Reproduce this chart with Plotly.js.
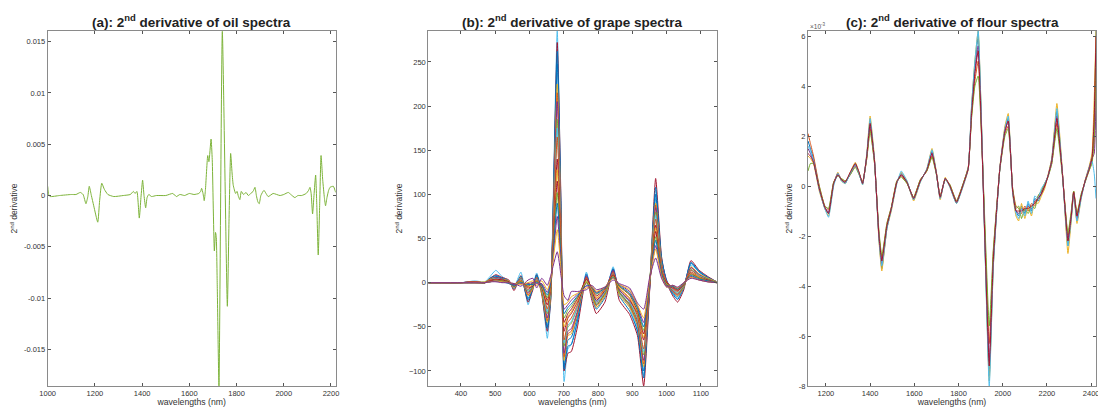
<!DOCTYPE html>
<html>
<head>
<meta charset="utf-8">
<script src="https://cdn.plot.ly/plotly-3.0.1.min.js"></script>
<style>
html,body{margin:0;padding:0;background:#fff;}
#chart{width:1098px;height:407px;}
</style>
</head>
<body>
<div id="chart"></div>
<script>
// ---------- Panel (a): oil spectra, 2nd derivative ----------
const oilWavelengths = [1000,1004,1010,1050,1100,1120,1138,1150,1162,1170,
 1176,1185,1195,1212,1220,1229,1240,1255,1280,1320,
 1350,1363,1370,1378,1388,1395,1402,1408,1415,1421,
 1428,1440,1460,1500,1530,1545,1560,1580,1600,1620,
 1640,1648,1652,1658,1663,1668,1678,1683,1692,1697,
 1706,1711,1714,1718,1725.5,1739.7,1761,1768,1775,1781,
 1786,1796,1802,1808,1814,1820,1830,1840,1850,1860,
 1870,1878,1884,1890,1896,1903,1916,1934,1955,1984,
 2000,2019,2030,2047,2060,2076,2095,2105,2111,2116,
 2122,2128,2135,2140,2146,2152,2158,2165,2172,2177,
 2183,2190,2196,2210,2220];
const oilDeriv = [0.0009,0.0001,-0.0001,0,0.0001,0.0001,0.0003,0.0001,-0.0008,-0.0001,
 0.0009,0,-0.0010,-0.0026,-0.0005,0.0012,0.0006,0.0001,-0.0001,0,
 0.0001,0.0004,0.0002,0.0004,-0.0022,-0.0002,0.0015,0,-0.0012,-0.0002,
 0.0001,-0.0001,0,0,0.0002,-0.0001,0.0001,0,0.0002,0.0001,
 0.0002,0.0004,0.0007,0.0002,-0.0005,0.0005,0.0039,0.0033,0.0055,0.0035,
 -0.0054,-0.0036,-0.0040,-0.0085,-0.0186,0.0160,-0.0108,-0.0025,0.0041,0.0022,
 0.0010,0.0002,0.0004,-0.0001,-0.0004,0.0004,0.0001,0.0003,0,0.0002,
 0.0004,0.0008,0,-0.0006,-0.0008,0,0.0005,-0.0001,0.0002,0,
 0.0001,0.0003,0.0001,-0.0002,0,0,0.0002,0.0005,0.0008,0.0002,
 -0.0018,0,0.0020,-0.0010,-0.0058,-0.0010,0.0039,0.0015,-0.0002,-0.0010,
 -0.0002,0.0005,0.0008,0.0009,0.0003];
const oilTickVals = [-0.015,-0.01,-0.005,0,0.005,0.01,0.015];
const oilTickText = ['-0.015','-0.01','-0.005','0','0.005','0.01','0.015'];

// ---------- Panel (b): grape spectra, 2nd derivative ----------
const grapeWavelengths = [305,400,440,470,485,502,520,540,555,575,596,610,621,636,652,662,681,692,701,712,722,740,766,782,795,820,844,862,892,915,933,950,968,985,1000,1018,1032,1050,1071,1095,1120,1146];
const grapeDeriv = [
 [0,0,2,1,7,14,7,2,-5,12,-25,-4,11,-10,-63,-18,285,80,-112,-75,-70,-42,12,-15,-28,-15,18,-12,-28,-55,-105,-5,95,25,2,-12,-18,-5,20,12,6,1],
 [0,0,1,0,5,9,6,3,-9,8,-22,-8,9,-14,-55,-20,272,90,-100,-80,-78,-50,6,-20,-35,-22,15,-20,-36,-60,-117,-12,118,30,0,-15,-22,-8,25,14,7,1],
 [0,0,1,0,5,8,5,2,-7,7,-20,-6,9,-11,-52,-17,262,82,-98,-72,-70,-44,8,-16,-30,-17,15,-15,-32,-55,-108,-9,108,28,1,-13,-19,-6,23,13,6,1],
 [0,0,1,0,4,7,5,1,-4,7,-18,-3,8,-8,-50,-14,248,70,-95,-65,-62,-38,10,-12,-25,-12,16,-10,-25,-50,-100,-8,100,26,3,-11,-16,-4,22,12,5,0],
 [0,0,1,1,4,6,4,2,-6,6,-15,-6,6,-12,-45,-15,225,65,-88,-60,-58,-35,4,-15,-28,-15,12,-14,-28,-48,-95,-4,90,22,-1,-10,-15,-5,18,10,5,1],
 [0,0,1,0,4,6,4,1,-5,5,-14,-4,6,-10,-43,-13,215,62,-84,-58,-55,-34,6,-13,-26,-13,13,-11,-26,-46,-92,-6,88,21,0,-10,-14,-4,17,9,4,0],
 [0,0,1,0,3,6,4,0,-3,5,-12,-2,5,-6,-40,-10,205,60,-80,-55,-52,-32,8,-10,-22,-10,14,-8,-22,-44,-88,-10,85,20,2,-9,-13,-3,17,9,4,0],
 [0,0,0,0,3,5,3,1,-5,4,-10,-5,4,-9,-35,-12,185,52,-72,-50,-46,-28,2,-12,-24,-12,10,-11,-24,-42,-82,-3,80,18,-2,-8,-12,-4,15,8,4,0],
 [0,0,0,0,3,5,3,0,-4,4,-9,-3,4,-7,-33,-9,175,50,-68,-48,-44,-27,4,-10,-21,-10,11,-8,-21,-40,-78,-5,76,17,0,-8,-11,-3,14,8,3,0],
 [0,0,1,0,3,4,3,-1,-2,3,-8,-1,3,-4,-30,-6,165,48,-65,-45,-40,-25,6,-8,-18,-8,11,-6,-18,-38,-75,-6,72,16,1,-7,-10,-2,14,7,3,0],
 [0,0,0,0,2,4,3,1,-4,2,-6,-4,2,-6,-25,-8,140,40,-55,-40,-35,-22,0,-10,-20,-9,8,-8,-20,-35,-65,-2,65,14,-3,-6,-9,-3,12,6,3,0],
 [0,0,0,0,2,3,2,0,-3,2,-5,-2,2,-4,-22,-5,128,36,-50,-38,-33,-20,2,-8,-17,-8,8,-6,-17,-34,-62,-3,62,13,-1,-5,-8,-2,11,6,2,0],
 [0,0,0,0,2,3,2,0,-2,1,-4,0,1,-2,-20,-2,115,32,-45,-35,-30,-18,4,-6,-15,-7,9,-4,-14,-32,-58,-4,58,12,0,-5,-8,-1,10,5,2,0],
 [0,0,0,0,1,2,2,0,-2,1,-3,-1,1,-3,-17,-1,102,28,-40,-31,-27,-16,0,-6,-13,-6,7,-4,-13,-30,-54,-2,52,11,-2,-4,-7,-1,9,5,2,0],
 [0,0,0,0,1,2,1,-1,-3,0,-2,-2,0,-3,-14,0,90,24,-35,-28,-24,-15,-3,-5,-12,-6,6,-3,-12,-28,-50,0,48,10,-4,-4,-7,-1,8,4,2,0],
 [0,0,0,0,1,2,1,0,-2,-1,-1,0,-1,-1,-11,2,75,20,-30,-25,-20,-13,-4,-5,-11,-5,5,-2,-10,-26,-45,1,42,8,-4,-3,-6,0,7,3,1,0],
 [0,0,0,0,1,2,1,0,-1,-2,0,2,-3,2,-8,4,60,15,-25,-22,-16,-12,-6,-4,-10,-5,5,-2,-8,-25,-40,2,38,7,-5,-3,-6,0,6,3,1,0],
 [0,0,0,0,1,1,0,0,-1,-4,3,5,-6,5,-3,8,35,8,-15,-20,-10,-10,-8,-3,-8,-5,3,-1,-6,-23,-30,5,28,5,-5,-3,-5,0,5,3,1,0]
];
const grapeColors = ['#4DBEEE','#A2142F','#0072BD','#0072BD','#EDB120','#D95319','#7E2F8E','#77AC30','#4DBEEE','#D95319','#A2142F','#EDB120','#A2142F','#77AC30','#0072BD','#7E2F8E','#EDB120','#7E2F8E'];

// ---------- Panel (c): flour spectra, 2nd derivative (x 1e-3) ----------
const flourWavelengths = [1119,1130,1144,1170,1195,1212,1235,1254,1270,1287,1310,1333,1350,1366,1385,1400,1420,1440,1453,1476,1496,1521,1541,1567,1597,1627,1657,1680,1700,1717,1740,1761,1791,1821,1844,1859,1874,1889,1939,1957,1972,1987,2010,2025,2045,2060,2072,2085,2100,2115,2130,2145,2160,2175,2190,2205,2222,2245,2270,2295,2310,2321,2336,2355,2373,2390,2404,2414,2422];
const flourDeriv = [
 [1.8,1.5,1.1,-0.1,-0.9,-1.1,0.1,0.5,0.25,0.1, 0.5,0.9,0.5,0.1,1.2,2.6,1.0,-2.1,-3.3,-1.7, -0.9,0.15,0.5,0.15,-0.55,0.2,0.65,1.4,0.5,-0.5, 0.3,0.0,-0.7,0.05,0.7,3.1,4.8,6.0,-7.6,-3.2, -1.1,0.7,2.3,2.7,-0.2,-1.0,-1.2,-0.8,-1.1,-0.7, -1.0,-0.5,-0.6,-0.3,0.0,0.4,1.1,3.0,0.5,-2.4, -1.3,-0.3,-1.4,-0.4,0.2,0.7,1.2,2.5,6.2],
 [2.1,1.7,1.2,0.0,-0.8,-0.95,0.15,0.45,0.3,0.2, 0.45,0.8,0.5,0.15,1.1,2.3,0.9,-1.9,-2.9,-1.5, -0.85,0.2,0.4,0.1,-0.45,0.25,0.6,1.2,0.5,-0.4, 0.3,0.05,-0.6,0.1,0.75,2.8,4.2,5.0,-6.3,-2.7, -0.9,0.7,2.1,2.4,-0.1,-0.8,-0.9,-1.1,-0.8,-1.0, -0.7,-0.8,-0.4,-0.2,0.1,0.4,0.9,2.5,0.5,-2.0, -1.1,-0.2,-1.1,-0.4,0.2,0.6,1.0,1.8,5.0],
 [1.2,1.1,0.9,-0.2,-0.9,-1.2,0.05,0.55,0.2,0.1, 0.55,0.95,0.55,0.05,1.3,2.8,1.1,-2.2,-3.4,-1.7, -1.0,0.1,0.55,0.2,-0.6,0.15,0.7,1.5,0.55,-0.55, 0.35,-0.05,-0.7,0.0,0.65,3.2,5.0,6.2,-7.8,-3.3, -1.1,0.75,2.4,2.9,-0.3,-1.2,-1.4,-0.7,-1.3,-0.8, -1.2,-0.6,-0.7,-0.4,-0.1,0.45,1.1,3.3,0.6,-2.7, -1.4,-0.3,-1.5,-0.5,0.25,0.75,1.3,3.5,6.2],
 [1.5,1.3,1.0,-0.1,-0.85,-1.05,0.1,0.5,0.25,0.15, 0.5,0.85,0.5,0.1,1.2,2.5,1.0,-2.0,-3.1,-1.6, -0.9,0.15,0.45,0.15,-0.5,0.2,0.65,1.35,0.5,-0.45, 0.3,0.0,-0.65,0.05,0.7,3.0,4.6,5.6,-7.0,-3.0, -1.0,0.7,2.2,2.6,-0.2,-1.0,-1.1,-0.9,-1.0,-0.8, -0.9,-0.6,-0.5,-0.3,0.0,0.4,1.0,2.8,0.5,-2.2, -1.2,-0.25,-1.3,-0.4,0.2,0.7,1.1,1.3,3.5],
 [0.6,0.9,0.9,0.0,-0.8,-0.9,0.15,0.4,0.3,0.2, 0.45,0.75,0.45,0.15,1.1,2.2,0.9,-1.8,-2.8,-1.5, -0.85,0.2,0.35,0.1,-0.45,0.25,0.6,1.15,0.45,-0.4, 0.25,0.05,-0.6,0.1,0.75,2.7,4.0,4.4,-5.6,-2.6, -0.9,0.65,2.0,2.3,-0.1,-0.9,-0.8,-1.3,-0.9,-1.1, -0.8,-0.9,-0.4,-0.2,0.1,0.35,0.9,2.3,0.4,-1.9, -1.0,-0.2,-1.1,-0.3,0.15,0.6,0.9,2.0,5.5],
 [1.6,1.4,1.0,-0.15,-0.9,-1.25,0.0,0.5,0.2,0.1, 0.5,0.85,0.5,0.05,1.25,2.7,1.0,-2.1,-3.2,-1.7, -0.95,0.1,0.6,0.2,-0.55,0.15,0.7,1.45,0.5,-0.5, 0.3,-0.05,-0.7,0.0,0.7,3.2,5.0,6.2,-8.0,-3.3, -1.1,0.7,2.3,2.8,-0.3,-1.1,-1.3,-0.9,-1.2,-0.6, -1.1,-0.4,-0.5,-0.1,0.1,0.4,1.0,3.1,0.5,-2.4, -1.3,-0.3,-1.4,-0.5,0.2,0.7,1.0,0.5,-0.5],
 [1.3,1.2,0.95,-0.1,-0.85,-1.1,0.1,0.45,0.25,0.15, 0.55,0.9,0.55,0.1,1.2,2.5,1.0,-2.0,-3.0,-1.6, -0.9,0.15,0.45,0.15,-0.5,0.2,0.65,1.3,0.5,-0.45, 0.3,0.0,-0.65,0.05,0.7,2.9,4.5,5.4,-7.2,-3.0, -1.0,0.7,2.2,2.6,-0.2,-1.0,-1.0,-1.0,-0.9,-0.9, -0.8,-0.7,-0.5,-0.3,0.0,0.4,1.0,2.7,0.5,-2.2, -1.2,-0.25,-1.2,-0.4,0.2,0.65,1.1,2.8,6.0]
];
const flourColors = ['#0072BD','#D95319','#EDB120','#7E2F8E','#77AC30','#4DBEEE','#A2142F'];
const flourTickVals = [-8,-6,-4,-2,0,2,4,6];

// ---------- build traces ----------
const traces = [];
traces.push({x: oilWavelengths, y: oilDeriv, type: 'scatter', mode: 'lines',
  line: {color: '#7DB33A', width: 1, shape: 'spline', smoothing: 0.5},
  xaxis: 'x', yaxis: 'y', showlegend: false, hoverinfo: 'skip'});
grapeDeriv.forEach((row, i) => {
  traces.push({x: grapeWavelengths, y: row, type: 'scatter', mode: 'lines',
    line: {color: grapeColors[i], width: 1, shape: 'spline', smoothing: 0.5},
    xaxis: 'x2', yaxis: 'y2', showlegend: false, hoverinfo: 'skip'});
});
flourDeriv.forEach((row, i) => {
  traces.push({x: flourWavelengths, y: row, type: 'scatter', mode: 'lines',
    line: {color: flourColors[i], width: 1, shape: 'spline', smoothing: 0.4},
    xaxis: 'x3', yaxis: 'y3', showlegend: false, hoverinfo: 'skip'});
});

// ---------- layout ----------
const W = 1098, H = 407;
const FONT = 'Liberation Sans, Arial, Helvetica, sans-serif';
const yDom = [21 / H, 376 / H];
function xAx(l, r, range, tickvals) {
  return {
    domain: [l / W, r / W], range: range, tickvals: tickvals,
    ticks: 'inside', ticklen: 3, tickwidth: 1, tickcolor: '#555',
    showline: true, linecolor: '#8a8a8a', linewidth: 1, mirror: 'ticks',
    showgrid: false, zeroline: false, ticklabeloverflow: 'allow',
    tickfont: {family: FONT, size: 7.5, color: '#333'},
    title: {text: 'wavelengths (nm)', font: {family: FONT, size: 8.7, color: '#333'}, standoff: 2}
  };
}
function yAx(anchor, range, tickvals, ticktext) {
  const o = {
    domain: yDom, range: range, tickvals: tickvals, anchor: anchor,
    ticks: 'inside', ticklen: 3, tickwidth: 1, tickcolor: '#555',
    showline: true, linecolor: '#8a8a8a', linewidth: 1, mirror: 'ticks',
    showgrid: false, zeroline: false, ticklabeloverflow: 'allow',
    tickfont: {family: FONT, size: 7.5, color: '#333'},
    title: {text: '2<sup>nd</sup> derivative', font: {family: FONT, size: 8.5, color: '#333'}, standoff: 4}
  };
  if (ticktext) o.ticktext = ticktext;
  return o;
}

const layout = {
  width: W, height: H,
  margin: {l: 0, r: 0, t: 0, b: 0},
  paper_bgcolor: '#fff', plot_bgcolor: '#fff',
  showlegend: false,
  font: {family: FONT},
  xaxis: Object.assign(xAx(47.7, 335.7, [1000, 2220], [1000,1200,1400,1600,1800,2000,2200]), {anchor: 'y'}),
  yaxis: yAx('x', [-0.01857, 0.01604], oilTickVals, oilTickText),
  xaxis2: Object.assign(xAx(428.3, 716.7, [305, 1146], [400,500,600,700,800,900,1000,1100]), {anchor: 'y2'}),
  yaxis2: yAx('x2', [-117, 285], [-100,-50,0,50,100,150,200,250]),
  xaxis3: Object.assign(xAx(808, 1096, [1119, 2422], [1200,1400,1600,1800,2000,2200,2400]), {anchor: 'y3'}),
  yaxis3: yAx('x3', [-8.0, 6.2], flourTickVals, flourTickVals.map(String)),
  annotations: [
    {text: '<b>(a): 2<sup>nd</sup> derivative of oil spectra</b>', xref: 'paper', yref: 'paper',
     x: 191.7 / W, y: (H - 21) / H, xanchor: 'center', yanchor: 'middle', showarrow: false,
     font: {family: FONT, size: 13.5, color: '#222'}},
    {text: '<b>(b): 2<sup>nd</sup> derivative of grape spectra</b>', xref: 'paper', yref: 'paper',
     x: 572.5 / W, y: (H - 21) / H, xanchor: 'center', yanchor: 'middle', showarrow: false,
     font: {family: FONT, size: 13.5, color: '#222'}},
    {text: '<b>(c): 2<sup>nd</sup> derivative of flour spectra</b>', xref: 'paper', yref: 'paper',
     x: 952 / W, y: (H - 21) / H, xanchor: 'center', yanchor: 'middle', showarrow: false,
     font: {family: FONT, size: 13.5, color: '#222'}},
    {text: '\u00d710<sup>-3</sup>', xref: 'paper', yref: 'paper',
     x: 808 / W, y: (H - 26) / H, xanchor: 'left', yanchor: 'middle', showarrow: false,
     font: {family: FONT, size: 6.5, color: '#555'}}
  ]
};

Plotly.newPlot('chart', traces, layout, {staticPlot: true, displayModeBar: false});
</script>
</body>
</html>
